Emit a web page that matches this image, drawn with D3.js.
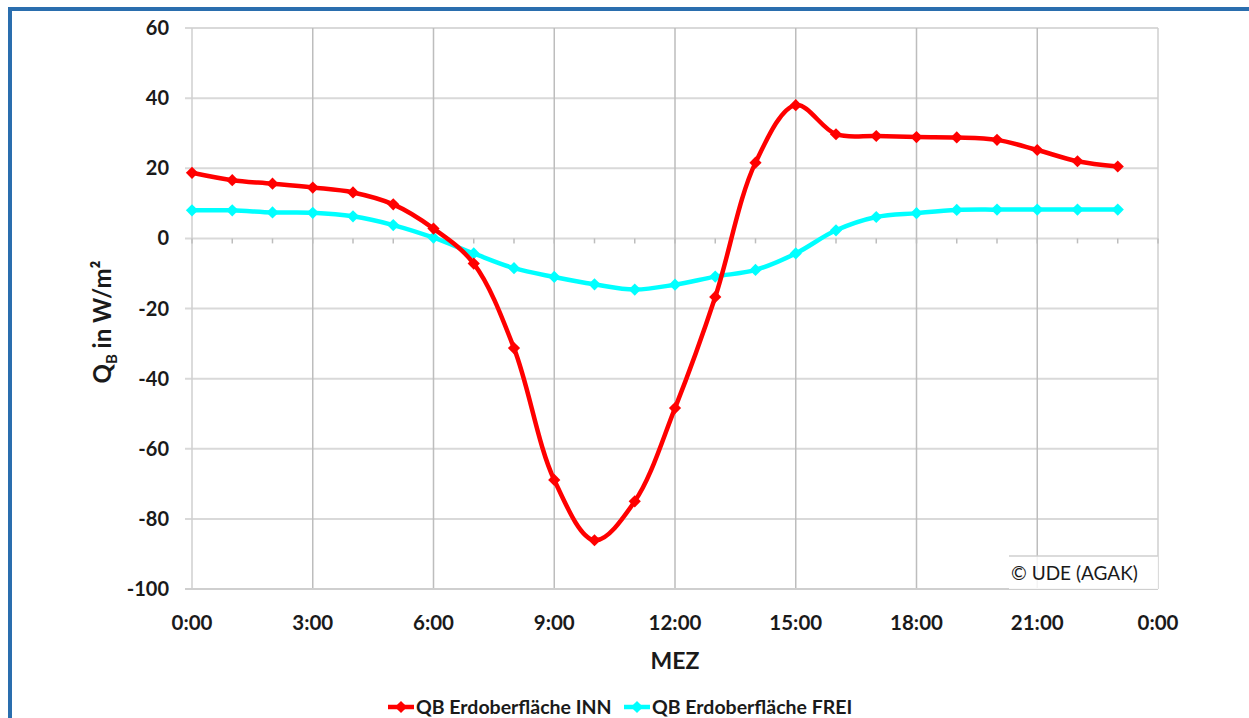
<!DOCTYPE html>
<html><head><meta charset="utf-8">
<script src="https://cdn.jsdelivr.net/npm/d3@7"></script>
<style>
html,body{margin:0;padding:0;background:#fff;}
svg{display:block;}
text{font-family:Lato,"Open Sans",sans-serif;}
</style></head>
<body>
<svg id="chart" width="1249" height="718"></svg>
<script>
const hours = [0,1,2,3,4,5,6,7,8,9,10,11,12,13,14,15,16,17,18,19,20,21,22,23];
const seriesNames = ["QB Erdoberfläche INN","QB Erdoberfläche FREI"];
const inn  = [18.7,16.6,15.6,14.5,13.1,9.7,2.8,-7.2,-31.3,-68.9,-86.1,-75.0,-48.4,-16.7,21.6,38.0,29.7,29.2,28.9,28.8,28.1,25.2,22.0,20.5];
const frei = [8.0,8.0,7.4,7.3,6.3,3.8,0.2,-4.3,-8.5,-11.0,-13.1,-14.6,-13.2,-10.9,-9.0,-4.3,2.3,6.1,7.2,8.1,8.2,8.2,8.2,8.2];
const yTicks = [60,40,20,0,-20,-40,-60,-80,-100];
const xTickHours = [0,3,6,9,12,15,18,21,24];
const xTickLabels = ["0:00","3:00","6:00","9:00","12:00","15:00","18:00","21:00","0:00"];
const colors = ["#ff0000","#00ffff"];

const svg = d3.select("#chart");
// blue frame
svg.append("path").attr("d","M10,718 V9 H1249").attr("fill","none").attr("stroke","#2a6eae").attr("stroke-width",4);

const x = d3.scaleLinear().domain([0,24]).range([192,1158]);
const y = d3.scaleLinear().domain([-100,60]).range([589,28]);

// horizontal gridlines
svg.append("g").selectAll("line").data(yTicks).join("line")
  .attr("x1",185).attr("x2",1158).attr("y1",d=>y(d)).attr("y2",d=>y(d))
  .attr("stroke","#d9d9d9").attr("stroke-width",2);
// vertical gridlines
svg.append("g").selectAll("line").data(xTickHours).join("line")
  .attr("x1",d=>x(d)).attr("x2",d=>x(d)).attr("y1",y(60)).attr("y2",y(-100))
  .attr("stroke",(d,i)=> (i===0||i===8) ? "#cfcfcf" : "#bdbdbd").attr("stroke-width",1.5);
// bottom line
svg.append("line").attr("x1",185).attr("x2",1158).attr("y1",y(-100)).attr("y2",y(-100))
  .attr("stroke","#cfcfcf").attr("stroke-width",2);
// hour ticks on zero axis
svg.append("g").selectAll("line").data(d3.range(0,25)).join("line")
  .attr("x1",d=>x(d)).attr("x2",d=>x(d)).attr("y1",y(0)).attr("y2",y(0)+5)
  .attr("stroke","#bdbdbd").attr("stroke-width",1.5);

// y tick labels
svg.append("g").selectAll("text").data(yTicks).join("text")
  .attr("x",169).attr("y",d=>y(d)).attr("dy","0.35em").attr("text-anchor","end")
  .attr("font-size",20).attr("font-weight","bold").attr("fill","#1a1a1a").text(d=>d);
// x tick labels
svg.append("g").selectAll("text").data(xTickHours).join("text")
  .attr("x",d=>x(d)).attr("y",630).attr("text-anchor","middle")
  .attr("font-size",20.5).attr("font-weight","bold").attr("fill","#1a1a1a").text((d,i)=>xTickLabels[i]);
// x title
svg.append("text").attr("x",675).attr("y",669).attr("text-anchor","middle")
  .attr("font-size",23).attr("font-weight","bold").attr("fill","#1a1a1a").text("MEZ");
// y title
const yt = svg.append("text").attr("transform","translate(111,322) rotate(-90)").attr("text-anchor","middle")
  .attr("font-size",24).attr("font-weight","bold").attr("fill","#1a1a1a");
yt.append("tspan").text("Q");
yt.append("tspan").attr("font-size",15).attr("dy",6).text("B");
yt.append("tspan").attr("dy",-6).text(" in W/m²");

// copyright box
svg.append("rect").attr("x",1009).attr("y",556).attr("width",149).attr("height",33)
  .attr("fill","#fff").attr("fill-opacity",0.85);
svg.append("line").attr("x1",1009).attr("x2",1158).attr("y1",556).attr("y2",556)
  .attr("stroke","#cfcfcf").attr("stroke-width",1.5);
svg.append("text").attr("x",1011).attr("y",580).attr("font-size",19).attr("fill","#1a1a1a").text("© UDE (AGAK)");

// lines
const series = [inn, frei];
const line = d3.line().x((d,i)=>x(hours[i])).y(d=>y(d)).curve(d3.curveCatmullRom.alpha(0.5));
const diamond = d3.symbol().type(d3.symbolDiamond2).size(95);
[1,0].forEach(k=>{
  const g = svg.append("g");
  g.append("path").attr("d",line(series[k])).attr("fill","none").attr("stroke",colors[k]).attr("stroke-width",4.5);
  g.selectAll("path.m").data(series[k]).join("path").attr("class","m")
    .attr("transform",(d,i)=>`translate(${x(hours[i])},${y(d)})`).attr("d",diamond).attr("fill",colors[k]);
});

// legend
const leg = [{x:388, tx:416},{x:624, tx:652}];
seriesNames.forEach((name,k)=>{
  const g = svg.append("g");
  g.append("line").attr("x1",leg[k].x).attr("x2",leg[k].x+26).attr("y1",707).attr("y2",707)
    .attr("stroke",colors[k]).attr("stroke-width",4.5);
  g.append("path").attr("transform",`translate(${leg[k].x+13},707)`).attr("d",diamond).attr("fill",colors[k]);
  g.append("text").attr("x",leg[k].tx).attr("y",714).attr("font-size",19.5).attr("font-weight","bold")
    .attr("fill","#1a1a1a").text(name);
});
</script>
</body></html>
